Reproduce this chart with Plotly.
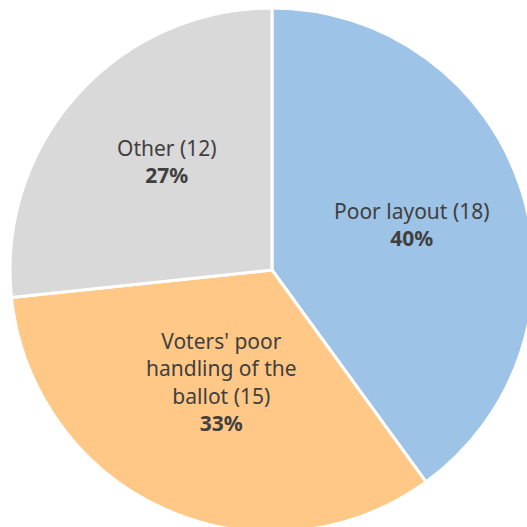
import math
import plotly.graph_objects as go

# Reasons for rejected ballots
labels = ["Poor layout (18)", "Voters' poor<br>handling of the<br>ballot (15)", "Other (12)"]
counts = [18, 15, 12]
colors = ["#9DC3E6", "#FFC886", "#D9D9D9"]
# label placement: share of the radius, and a small turn (degrees) off the mid-angle
label_radius = [0.563, 0.47, 0.575]
label_turn = [0.0, 0.0, 3.8]

W = H = 544
cx, cy, r = 272, 270, 262  # pie centre and radius in pixels

fig = go.Figure(
    go.Pie(
        labels=labels,
        values=counts,
        sort=False,
        direction="clockwise",
        rotation=0,
        marker=dict(colors=colors, line=dict(color="white", width=3)),
        textinfo="none",
        hoverinfo="label+value+percent",
        domain=dict(
            x=[(cx - r) / W, (cx + r) / W],
            y=[1 - (cy + r) / H, 1 - (cy - r) / H],
        ),
        showlegend=False,
    )
)

# Place each label near its slice's mid-angle (clockwise from 12 o'clock)
total = sum(counts)
start = 0.0
for lab, val, frac, turn in zip(labels, counts, label_radius, label_turn):
    mid = (start + val / 2) / total * 2 * math.pi + math.radians(turn)
    start += val
    px = cx + frac * r * math.sin(mid)
    py = cy - frac * r * math.cos(mid)
    pct = round(100 * val / total)
    fig.add_annotation(
        x=px / W,
        y=1 - py / H,
        xref="paper",
        yref="paper",
        xanchor="center",
        yanchor="middle",
        showarrow=False,
        align="center",
        text=f"{lab}<br><b>{pct}%</b>",
        font=dict(family="Noto Sans", size=21, color="#404040"),
    )

fig.update_layout(
    width=W,
    height=H,
    autosize=False,
    margin=dict(l=0, r=0, t=0, b=0),
    paper_bgcolor="white",
    plot_bgcolor="white",
)

fig.write_html(
    "out.html",
    post_script="document.body.style.margin='0';document.body.style.overflow='hidden';",
)
